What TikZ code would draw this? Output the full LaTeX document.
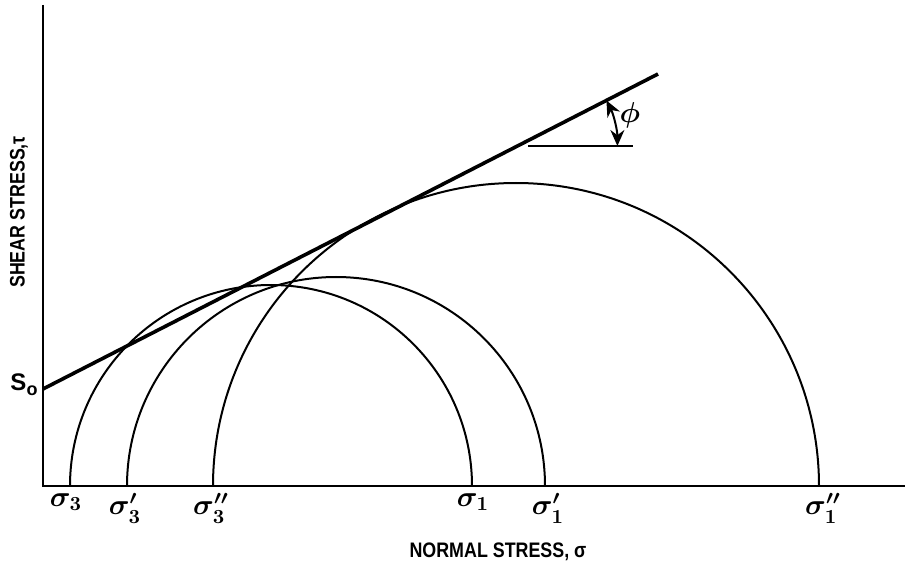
\documentclass[tikz,border=0pt]{standalone}
\usepackage{fontspec}
\setmainfont{Liberation Sans}
\usetikzlibrary{arrows.meta}
\newcommand{\condtext}[1]{\scalebox{0.85}[1]{\bfseries #1}}
\begin{document}
\begin{tikzpicture}[x=0.5pt,y=0.5pt,
  axis/.style={line width=1.1pt},
  circ/.style={line width=1pt},
  envelope/.style={line width=1.8pt},
  siglab/.style={anchor=north,inner sep=0pt,font=\Large\boldmath},
  axlab/.style={inner sep=0pt,font=\fontsize{10.5}{12}\selectfont}]
\useasboundingbox (0,0) rectangle (916,574);
% axes
\coordinate (O) at (43,88);
\coordinate (ytop) at (43,569);
\coordinate (xend) at (905,88);
\draw[axis] (ytop) -- (O) -- (xend);
% circle feet
\coordinate (s3a) at (70,88);
\coordinate (s3b) at (127,88);
\coordinate (s3c) at (213,88);
\coordinate (s1a) at (472,88);
\coordinate (s1b) at (545,88);
\coordinate (s1c) at (819,88);
% Mohr circles
\draw[circ] (s3a) arc[start angle=180,end angle=0,radius=201];
\draw[circ] (s3b) arc[start angle=180,end angle=0,radius=209];
\draw[circ] (s3c) arc[start angle=180,end angle=0,radius=303];
% failure envelope
\coordinate (e0) at (43,185);
\coordinate (e1) at (658,500);
\draw[envelope] (e0) -- (e1);
% angle marker
\coordinate (hc) at (517.4,428);
\coordinate (h0) at (528,428);
\coordinate (h1) at (633,428);
\draw[line width=1.1pt] (h0) -- (h1);
\draw[line width=1pt,{Stealth[length=8pt,width=7pt]}-{Stealth[length=8pt,width=7pt]}]
  ([shift={(27.1:100)}]hc) arc[start angle=27.1,end angle=0,radius=100];
\node[inner sep=0pt,font=\Large\boldmath] (phi) at (630,459) {$\phi$};
% labels
\node[siglab] (l3a) at (66,81) {$\sigma_3$};
\node[siglab] (l3b) at (125,81) {$\sigma_3'$};
\node[siglab] (l3c) at (211,81) {$\sigma_3''$};
\node[siglab] (l1a) at (473,81) {$\sigma_1$};
\node[siglab] (l1b) at (548,81) {$\sigma_1'$};
\node[siglab] (l1c) at (823,81) {$\sigma_1''$};
\node[inner sep=0pt,font=\fontsize{12}{13}\selectfont\bfseries] (S0) at (24,189) {S\raisebox{-0.4ex}{\small o}};
\node[axlab] (xl) at (498,22) {\condtext{NORMAL STRESS, σ}};
\node[axlab,rotate=90] (yl) at (19,362) {\condtext{SHEAR STRESS,τ}};
\end{tikzpicture}
\end{document}
